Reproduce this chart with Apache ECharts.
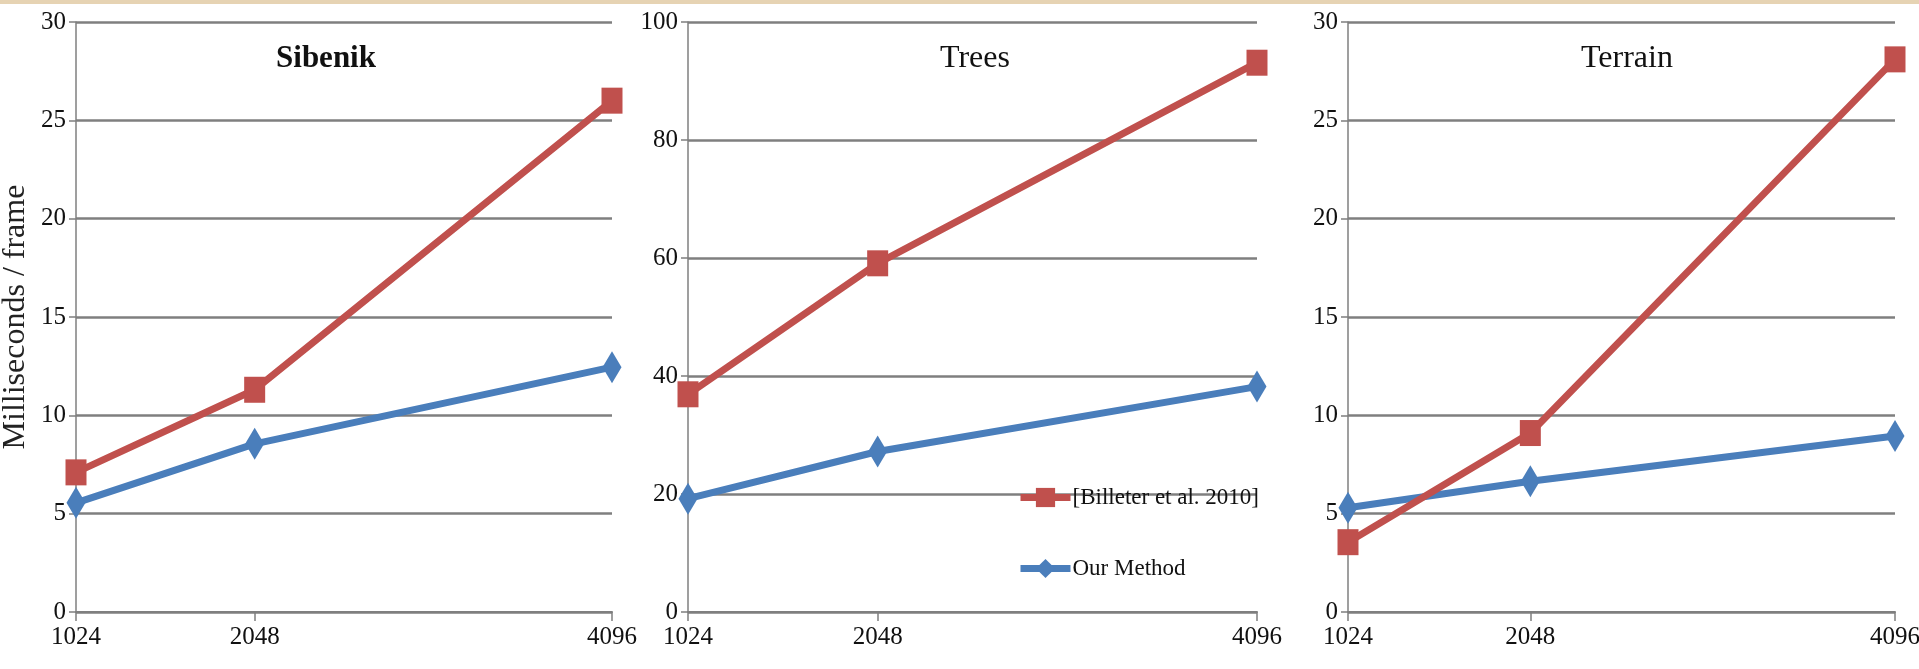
<!DOCTYPE html>
<html>
<head>
<meta charset="utf-8">
<script src="https://cdn.jsdelivr.net/npm/echarts@6/dist/echarts.min.js"></script>
<style>
  html, body { margin: 0; padding: 0; background: #fff; }
  #chart { width: 1919px; height: 669px; }
</style>
</head>
<body>
<div id="chart"></div>
<script>
// texture sizes on the x axis
const sizes = [1024, 2048, 4096];
const sceneNames = ["Sibenik", "Trees", "Terrain"];
const seriesNames = ["[Billeter et al. 2010]", "Our Method"];

// milliseconds / frame
const sibenikBilleter = [7.1, 11.3, 26.0];
const sibenikOurs = [5.55, 8.55, 12.45];
const treesBilleter = [36.9, 59.1, 93.1];
const treesOurs = [19.2, 27.2, 38.2];
const terrainBilleter = [3.55, 9.1, 28.1];
const terrainOurs = [5.3, 6.65, 8.95];

// y axis ranges and steps
const yMax = [30, 100, 30];
const yStep = [5, 20, 5];

const font = "'Liberation Serif', 'Times New Roman', serif";
const red = "#c0504d";
const blue = "#4a7ebb";
const gridColor = "#7f7f7f";

const grids = [
  { left: 76, top: 22, width: 536, height: 590, outerBoundsMode: "none" },
  { left: 688, top: 22, width: 569, height: 590, outerBoundsMode: "none" },
  { left: 1348, top: 22, width: 547, height: 590, outerBoundsMode: "none" }
];

function pairs(vals) {
  return sizes.map((s, i) => [s, vals[i]]);
}

let chart = echarts.init(document.getElementById("chart"));

let xAxes = [], yAxes = [], series = [];
[0, 1, 2].forEach(function (i) {
  xAxes.push({
    type: "value",
    gridIndex: i,
    min: 1024,
    max: 4096,
    axisLine: { show: true, lineStyle: { color: gridColor, width: 2 } },
    axisTick: { show: true, customValues: sizes, length: 9, lineStyle: { color: gridColor, width: 1.5 } },
    axisLabel: {
      customValues: sizes, margin: 13, color: "#111", fontSize: 25, fontFamily: font,
      formatter: function (v) { return String(v); }
    },
    splitLine: { show: false }
  });
  yAxes.push({
    type: "value",
    gridIndex: i,
    min: 0,
    max: yMax[i],
    interval: yStep[i],
    name: i === 0 ? "Milliseconds / frame" : "",
    nameLocation: "middle",
    nameGap: 44,
    nameTextStyle: { fontSize: 32, fontFamily: font, color: "#222" },
    axisLine: { show: true, lineStyle: { color: gridColor, width: 1.5 } },
    axisTick: { show: true, length: 7, lineStyle: { color: gridColor, width: 1.5 } },
    axisLabel: { margin: 10, color: "#111", fontSize: 25, fontFamily: font },
    splitLine: { show: true, lineStyle: { color: gridColor, width: 2.5 } }
  });
});

const billeter = [sibenikBilleter, treesBilleter, terrainBilleter];
const ours = [sibenikOurs, treesOurs, terrainOurs];
[0, 1, 2].forEach(function (i) {
  series.push({
    name: seriesNames[1],
    type: "line",
    xAxisIndex: i,
    yAxisIndex: i,
    data: pairs(ours[i]),
    symbol: "diamond",
    symbolSize: [19, 32],
    lineStyle: { color: blue, width: 7 },
    itemStyle: { color: blue },
    z: 3
  });
  series.push({
    name: seriesNames[0],
    type: "line",
    xAxisIndex: i,
    yAxisIndex: i,
    data: pairs(billeter[i]),
    symbol: "rect",
    symbolSize: [21, 26],
    lineStyle: { color: red, width: 7 },
    itemStyle: { color: red },
    z: 4
  });
});

let option = {
  animation: false,
  backgroundColor: "#fff",
  title: [
    { text: sceneNames[0], left: 321, top: 38, textAlign: "center",
      textStyle: { fontSize: 31, fontWeight: "bold", fontFamily: font, color: "#111" } },
    { text: sceneNames[1], left: 970, top: 38, textAlign: "center",
      textStyle: { fontSize: 32, fontWeight: "normal", fontFamily: font, color: "#111" } },
    { text: sceneNames[2], left: 1622, top: 38, textAlign: "center",
      textStyle: { fontSize: 32, fontWeight: "normal", fontFamily: font, color: "#111" } }
  ],
  legend: {
    data: seriesNames,
    orient: "vertical",
    left: 1012,
    top: 481,
    itemWidth: 50,
    itemHeight: 24,
    itemGap: 48,
    lineStyle: { width: 7 },
    textStyle: { fontSize: 23, fontFamily: font, color: "#111", padding: [0, 0, 0, -3] }
  },
  graphic: [
    { type: "rect", left: 0, top: 0, shape: { width: 1919, height: 4 }, style: { fill: "#e6d3b3" } }
  ],
  grid: grids,
  xAxis: xAxes,
  yAxis: yAxes,
  series: series
};

chart.setOption(option);
window.onresize = function () {
  chart.resize();
};
</script>
</body>
</html>
